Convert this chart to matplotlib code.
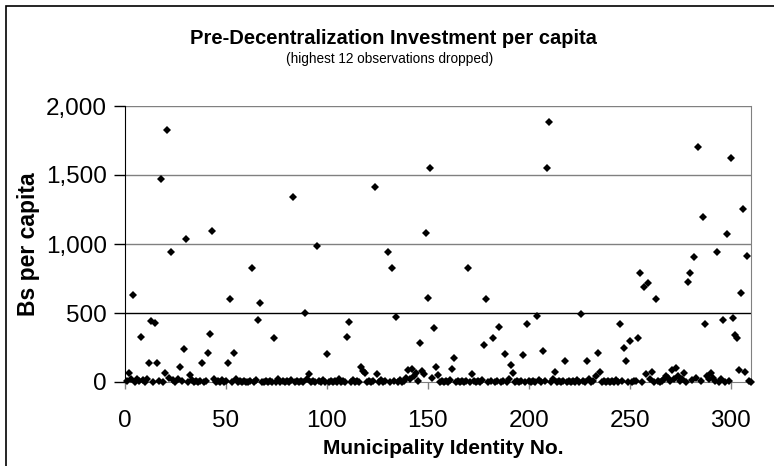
import numpy as np
import matplotlib
matplotlib.use("Agg")
import matplotlib.pyplot as plt
from matplotlib.ticker import FuncFormatter
from matplotlib.patches import Rectangle

plt.rcParams['font.family'] = ['Liberation Sans', 'DejaVu Sans']

# municipality id 1..310, investment per capita (Bs)
ids = np.arange(1, 311)
bs_per_capita = [
    10, 63, 20, 630, 0, 25, 5, 328, 15, 0,
    20, 140, 444, 0, 430, 140, 8, 1469, 0, 65,
    1826, 30, 944, 12, 0, 20, 106, 5, 237, 1034,
    0, 51, 15, 0, 10, 0, 5, 135, 0, 8,
    213, 345, 1097, 20, 0, 10, 0, 15, 0, 5,
    135, 601, 0, 213, 20, 0, 5, 0, 10, 0,
    0, 8, 824, 0, 15, 449, 570, 0, 0, 10,
    0, 5, 0, 316, 0, 20, 0, 10, 0, 5,
    0, 15, 1343, 0, 5, 0, 10, 0, 498, 20,
    56, 0, 10, 0, 985, 5, 0, 15, 0, 203,
    0, 10, 0, 5, 0, 20, 0, 8, 0, 328,
    437, 0, 15, 0, 5, 0, 106, 80, 63, 0,
    10, 0, 5, 1411, 56, 0, 15, 0, 10, 944,
    0, 824, 5, 469, 0, 15, 0, 10, 30, 87,
    20, 92, 40, 63, 10, 285, 80, 60, 1077, 611,
    1553, 30, 389, 106, 51, 0, 10, 0, 5, 0,
    15, 94, 176, 0, 10, 0, 5, 0, 10, 824,
    0, 58, 10, 0, 5, 0, 15, 268, 601, 0,
    10, 316, 0, 5, 396, 0, 10, 203, 0, 20,
    123, 63, 0, 10, 0, 5, 196, 0, 418, 10,
    0, 5, 0, 478, 15, 0, 225, 10, 1553, 1886,
    0, 20, 70, 0, 10, 0, 5, 152, 0, 10,
    0, 5, 0, 15, 0, 491, 10, 0, 152, 20,
    0, 10, 40, 213, 70, 0, 5, 0, 10, 0,
    5, 0, 15, 0, 418, 10, 244, 152, 0, 297,
    0, 5, 10, 316, 792, 0, 691, 56, 715, 20,
    70, 0, 601, 10, 0, 5, 20, 40, 30, 10,
    87, 20, 99, 40, 10, 25, 63, 0, 722, 792,
    15, 903, 30, 1705, 10, 1198, 418, 40, 20, 63,
    30, 10, 944, 0, 20, 449, 0, 1072, 10, 1621,
    466, 340, 320, 87, 643, 1251, 75, 915, 10, 0,
]
yticks = [0, 500, 1000, 1500, 2000]
xticks = [0, 50, 100, 150, 200, 250, 300]

fig = plt.figure(figsize=(7.74, 4.66), dpi=100)
ax = fig.add_axes([125/774, 1 - 382/466, (751 - 125)/774, (382 - 106)/466])

# grid lines like excel
for yv in yticks[1:]:
    ax.axhline(yv, color='black' if yv == 500 else '#808080', lw=1.0, zorder=1)

ax.plot(ids, bs_per_capita, 'D', color='black', ms=4.4, mew=0,
        clip_on=False, zorder=3)

ax.set_xlim(0, 310)
ax.set_ylim(0, 2000)
ax.set_xticks(xticks)
ax.set_yticks(yticks)
ax.yaxis.set_major_formatter(FuncFormatter(lambda v, p: f"{v:,.0f}"))
ax.tick_params(axis='both', direction='out', labelsize=17.5)
ax.tick_params(axis='y', length=8, width=1, pad=5)
ax.tick_params(axis='x', length=5, width=1, color='#808080', pad=15)

for s in ['top', 'right', 'bottom']:
    ax.spines[s].set_color('#808080')
ax.spines['top'].set_visible(False)
ax.spines['left'].set_color('black')

ax.set_ylabel('Bs per capita', fontsize=16.5, fontweight='bold', va='center')
ax.yaxis.set_label_coords((28 - 125)/626, 0.5)
ax.set_xlabel('Municipality Identity No.', fontsize=15, fontweight='bold', va='center')
ax.xaxis.set_label_coords(0.5 + 5/626, (382 - 448)/276)

fig.text(0.508, 1 - 38/466, 'Pre-Decentralization Investment per capita',
         ha='center', va='center', fontsize=14.5, fontweight='bold')
fig.text(0.503, 1 - 59/466, '(highest 12 observations dropped)',
         ha='center', va='center', fontsize=9.8)

# chart border (right and bottom edges fall outside the picture)
fig.patches.append(Rectangle((6/774, -0.1), 1.2, 1.1 - 6/466,
                             transform=fig.transFigure, fill=False,
                             edgecolor='black', lw=1.2))

fig.savefig('out.png', dpi=100)
